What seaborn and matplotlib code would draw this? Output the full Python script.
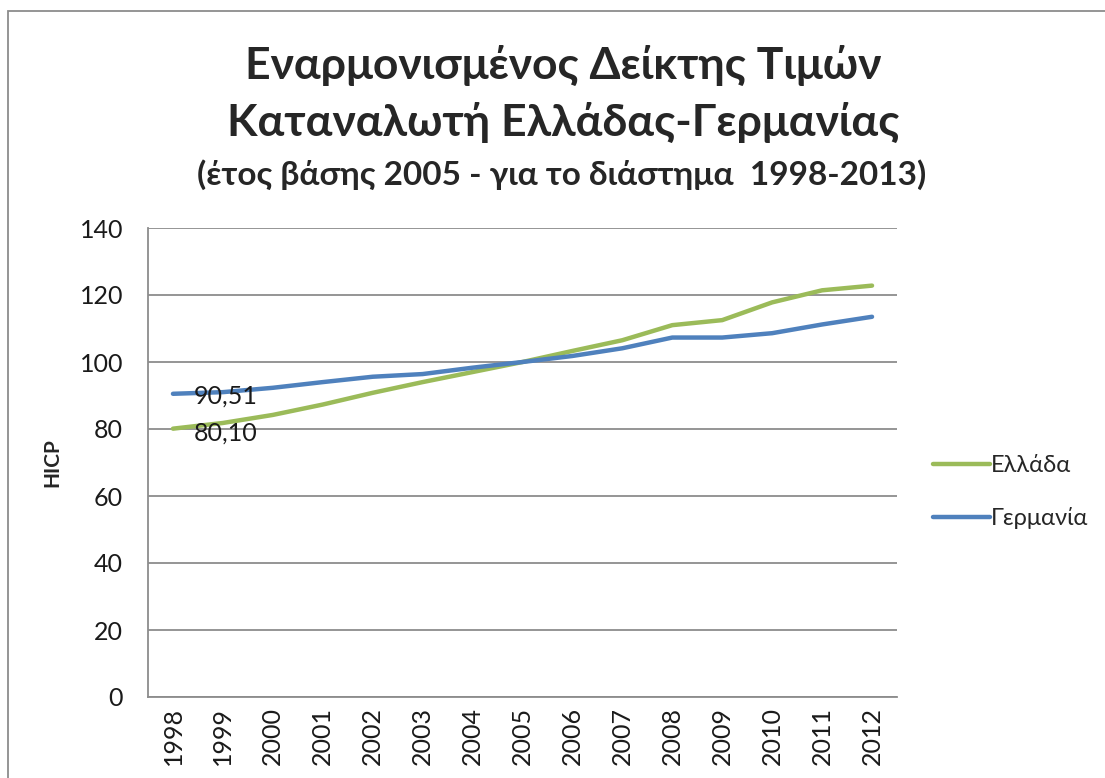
import pandas as pd
import matplotlib.pyplot as plt
import seaborn as sns
from matplotlib.patches import Rectangle

# HICP, base year 2005 = 100
years = ["1998", "1999", "2000", "2001", "2002", "2003", "2004", "2005",
         "2006", "2007", "2008", "2009", "2010", "2011", "2012"]
greece = [80.10, 81.8, 84.2, 87.3, 90.8, 94.0, 97.0, 100.0,
          103.3, 106.5, 111.0, 112.5, 117.8, 121.4, 122.8]
germany = [90.51, 91.0, 92.3, 94.0, 95.6, 96.4, 98.3, 100.0,
           101.8, 104.1, 107.3, 107.3, 108.6, 111.2, 113.5]
series_names = ["Ελλάδα", "Γερμανία"]
colors = ["#9BBB59", "#4F81BD"]

title_1 = "Εναρμονισμένος Δείκτης Τιμών"
title_2 = "Καταναλωτή Ελλάδας-Γερμανίας"
title_3 = "(έτος βάσης 2005 - για το διάστημα  1998-2013)"

sns.set_style("white")
plt.rcParams["font.family"] = ["Lato", "DejaVu Sans"]

df = pd.DataFrame({
    "Έτος": years * 2,
    "HICP": greece + germany,
    "Χώρα": [series_names[0]] * len(years) + [series_names[1]] * len(years),
})

fig = plt.figure(figsize=(11.05, 7.78), dpi=100)
ax = fig.add_axes([148 / 1105, 1 - 697 / 778, (897 - 148) / 1105, (697 - 228) / 778])

sns.lineplot(data=df, x="Έτος", y="HICP", hue="Χώρα", palette=colors,
             linewidth=3.2, ax=ax, sort=False)

ax.set_xlim(-0.5, len(years) - 0.5)
ax.set_ylim(0, 140)
ax.set_yticks(range(0, 141, 20))
ax.yaxis.grid(True, color="#8c8c8c", linewidth=1.3)
ax.xaxis.grid(False)
for side in ["top", "right"]:
    ax.spines[side].set_visible(False)
for side in ["left", "bottom"]:
    ax.spines[side].set_color("#8c8c8c")
    ax.spines[side].set_linewidth(1.3)
ax.tick_params(axis="both", length=0, labelsize=18, colors="#1a1a1a")
ax.tick_params(axis="y", pad=18)
ax.tick_params(axis="x", pad=7)
plt.setp(ax.get_xticklabels(), rotation=90)
ax.set_xlabel("")
ax.set_ylabel("HICP", fontsize=15, fontweight="bold", labelpad=12)

# data labels on the first year
ax.annotate(f"{germany[0]:.2f}".replace(".", ","), (0, germany[0]),
            xytext=(15, -2), textcoords="offset points", va="center",
            fontsize=18, color="#1a1a1a")
ax.annotate(f"{greece[0]:.2f}".replace(".", ","), (0, greece[0]),
            xytext=(15, -3), textcoords="offset points", va="center",
            fontsize=18, color="#1a1a1a")

ax.legend(loc="center left", bbox_to_anchor=(1.02, 0.437), frameon=False,
          fontsize=17, handlelength=2.4, handletextpad=0.05, labelspacing=1.3)

fig.text(0.51, 1 - 65 / 778, title_1, ha="center", va="center",
         fontsize=32, fontweight="bold")
fig.text(0.51, 1 - 122 / 778, title_2, ha="center", va="center",
         fontsize=32, fontweight="bold")
fig.text(0.508, 1 - 175 / 778, title_3, ha="center", va="center",
         fontsize=24, fontweight="bold")

fig.patches.append(Rectangle((8 / 1105, -0.1), 2, 1 - 11 / 778 + 0.1,
                             transform=fig.transFigure, fill=False,
                             edgecolor="#8c8c8c", linewidth=1.3))

fig.savefig("out.png", dpi=100)
